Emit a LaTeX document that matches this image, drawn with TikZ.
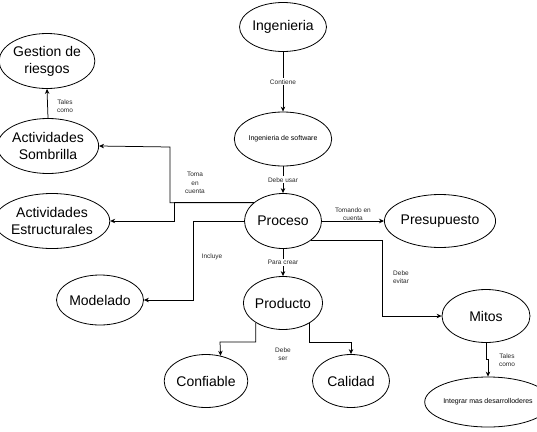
\documentclass[tikz,border=0pt]{standalone}
\usepackage{fontspec}
\setmainfont{Liberation Sans}
\usetikzlibrary{shapes.geometric,arrows.meta}
\begin{document}
\begin{tikzpicture}[x=1pt,y=-1pt,
  concept/.style={ellipse,draw=black,line width=0.8pt,inner sep=0pt,align=center,font=\fontsize{14}{17}\selectfont},
  smallconcept/.style={ellipse,draw=black,line width=0.8pt,inner sep=0pt,align=center,font=\fontsize{7}{8.5}\selectfont},
  conn/.style={draw=black,line width=0.75pt,-{Stealth[length=5pt,width=4.5pt]}},
  lbl/.style={font=\fontsize{6.5}{8.5}\selectfont,align=center,inner sep=1pt,text=black!85},
  onlbl/.style={lbl,fill=white}]
\useasboundingbox (0,0) rectangle (537,431);
% nodes
\node[concept,minimum width=78pt,minimum height=49pt] (ing) at (283,27) {Ingenieria};
\node[smallconcept,minimum width=94pt,minimum height=54pt] (isw) at (283,139) {Ingenieria de software};
\node[concept,minimum width=77pt,minimum height=55pt] (proc) at (283,221) {Proceso};
\node[concept,minimum width=87pt,minimum height=53pt] (pres) at (440,221) {Presupuesto};
\node[concept,minimum width=78pt,minimum height=53pt] (prod) at (283,303) {Producto};
\node[concept,minimum width=77pt,minimum height=53pt] (conf) at (206,381) {Confiable};
\node[concept,minimum width=77pt,minimum height=53pt] (cal) at (351,381) {Calidad};
\node[concept,minimum width=88pt,minimum height=53pt] (mitos) at (486,316) {Mitos};
\node[smallconcept,minimum width=93pt,minimum height=50pt] (integ) at (488,402) {Integrar mas desarrolloderes};
\node[concept,minimum width=84pt,minimum height=50pt] (mod) at (100,300) {Modelado};
\node[concept,minimum width=95pt,minimum height=55pt] (somb) at (48,146) {Actividades\\Sombrilla};
\node[concept,minimum width=100pt,minimum height=55pt] (estr) at (52,221) {Actividades\\Estructurales};
\node[concept,minimum width=87pt,minimum height=55pt] (gest) at (47,61) {Gestion de\\riesgos};
% bend points
\coordinate (bsomb) at (170,147);
\coordinate (bestr) at (174,221);
\coordinate (bmod) at (193,300);
\coordinate (bmit) at (382,316);
\coordinate (bmit2) at (486,359);
\coordinate (bconf) at (220,342);
\coordinate (bcal) at (351,342);
% connectors
\draw[conn] (ing.south) -- node[onlbl] (l1) {Contiene} (isw.north);
\draw[conn] (isw.south) -- node[onlbl] (l2) {Debe usar} (proc.north);
\draw[conn] (proc.east) -- node[lbl,above,yshift=-1pt] (l3) {Tomando en\\cuenta} (pres.west);
\draw[conn] (proc.south) -- node[onlbl] (l4) {Para crear} (prod.north);
\draw[conn] (proc.-34) -| (bmit) -- (mitos.west);
\draw[conn] (proc.west) -| (bmod) -- (mod.east);
\draw[conn] (proc.148) -| (bsomb) -- (somb.east);
\draw[conn] (proc.148) -| (bestr) -- (estr.east);
\draw[conn] (somb.north) -- (gest.south);
\draw[conn] (prod.216) |- (bconf) -- (conf.60);
\draw[conn] (prod.-37) |- (bcal) -- (cal.north);
\draw[conn] (mitos.south) -- (bmit2) -| (integ.north);
% free labels
\node[lbl] (l5) at (401,277) {Debe\\evitar};
\node[lbl] (l6) at (212,257) {Incluye};
\node[lbl] (l7) at (195,183) {Toma\\en\\cuenta};
\node[lbl] (l8) at (65,106) {Tales\\como};
\node[lbl] (l9) at (283,354) {Debe\\ser};
\node[lbl] (l10) at (507,360) {Tales\\como};
\end{tikzpicture}
\end{document}
